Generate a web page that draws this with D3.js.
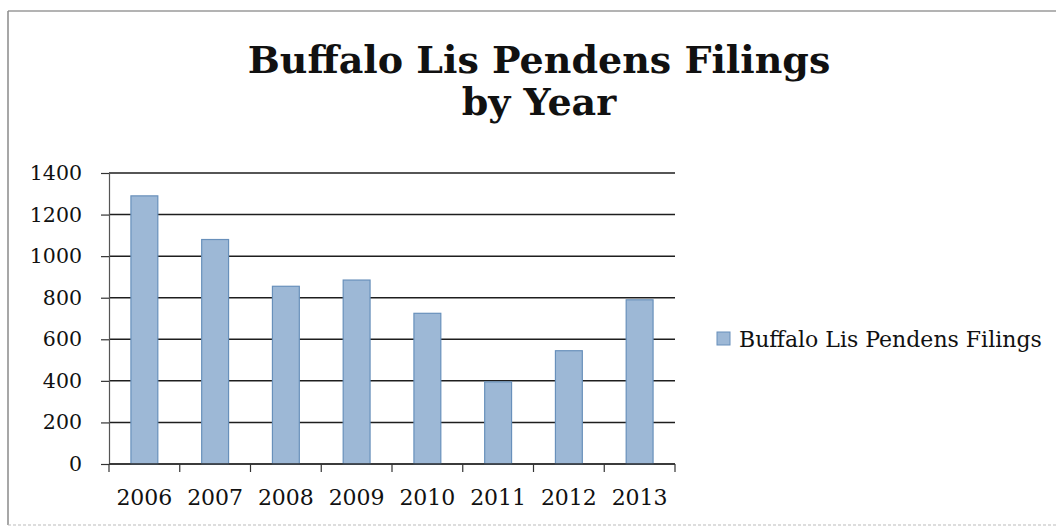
<!DOCTYPE html>
<html>
<head>
<meta charset="utf-8">
<script src="https://cdn.jsdelivr.net/npm/d3@7"></script>
<style>
  body { margin: 0; background: #fff; }
  text { font-family: "DejaVu Serif", serif; fill: #111; }
</style>
</head>
<body>
<div id="chart"></div>
<script>
var years = ["2006", "2007", "2008", "2009", "2010", "2011", "2012", "2013"];
var filings = [1290, 1080, 855, 885, 725, 395, 545, 790];
var yTicks = [0, 200, 400, 600, 800, 1000, 1200, 1400];
var seriesName = "Buffalo Lis Pendens Filings";
var titleLines = ["Buffalo Lis Pendens Filings", "by Year"];

var W = 1056, H = 527;
var plot = { left: 109, right: 675, top: 173, bottom: 464 };

var svg = d3.select("#chart").append("svg")
    .attr("width", W)
    .attr("height", H);

// outer chart border (top + left show, the rest falls off the scan)
svg.append("line").attr("x1", 8).attr("x2", W).attr("y1", 11).attr("y2", 11)
    .attr("stroke", "#9a9a9a").attr("stroke-width", 1.5);
svg.append("line").attr("x1", 8).attr("x2", 8).attr("y1", 11).attr("y2", 525)
    .attr("stroke", "#8a8a8a").attr("stroke-width", 1.5);
svg.append("line").attr("x1", 8).attr("x2", W).attr("y1", 525).attr("y2", 525)
    .attr("stroke", "#bbb").attr("stroke-width", 1).attr("stroke-dasharray", "3,2");

// title
svg.append("text")
    .attr("x", 539)
    .attr("text-anchor", "middle")
    .style("font-weight", "bold")
    .style("font-size", "38px")
    .selectAll("tspan")
    .data(titleLines)
    .enter().append("tspan")
    .attr("x", 539)
    .attr("y", function (d, i) { return 73 + i * 42; })
    .text(function (d) { return d; });

var x = d3.scaleBand()
    .domain(years)
    .range([plot.left, plot.right])
    .paddingInner(0.62)
    .paddingOuter(0.31);

var y = d3.scaleLinear()
    .domain([0, 1400])
    .range([plot.bottom, plot.top]);

// gridlines
svg.append("g")
    .selectAll("line")
    .data(yTicks)
    .enter().append("line")
    .attr("x1", plot.left)
    .attr("x2", plot.right)
    .attr("y1", function (d) { return y(d); })
    .attr("y2", function (d) { return y(d); })
    .attr("stroke", "#1e1e1e")
    .attr("stroke-width", 1.5);

// y axis
var yAxis = svg.append("g")
    .attr("transform", "translate(" + plot.left + ",0)")
    .call(d3.axisLeft(y).tickValues(yTicks).tickFormat(d3.format("d"))
        .tickSize(8).tickPadding(19).tickSizeOuter(0));
yAxis.select(".domain").attr("stroke", "#555").attr("stroke-width", 1.2);
yAxis.selectAll(".tick line").attr("stroke", "#333").attr("stroke-width", 1.2);
yAxis.selectAll("text")
    .style("font-family", "DejaVu Serif")
    .style("font-size", "20.5px")
    .attr("fill", "#111");

// bars
svg.append("g")
    .selectAll("rect")
    .data(filings)
    .enter().append("rect")
    .attr("x", function (d, i) { return x(years[i]); })
    .attr("width", x.bandwidth())
    .attr("y", function (d) { return y(d); })
    .attr("height", function (d) { return y(0) - y(d); })
    .attr("fill", "#9db8d6")
    .attr("stroke", "#6890bb")
    .attr("stroke-width", 1.2);

// x axis: ticks sit between categories
var xBounds = d3.range(years.length + 1).map(function (i) {
    return plot.left + i * (plot.right - plot.left) / years.length;
});
var xg = svg.append("g");
xg.append("line")
    .attr("x1", plot.left).attr("x2", plot.right)
    .attr("y1", plot.bottom).attr("y2", plot.bottom)
    .attr("stroke", "#333").attr("stroke-width", 1.4);
xg.selectAll("line.tick")
    .data(xBounds)
    .enter().append("line")
    .attr("class", "tick")
    .attr("x1", function (d) { return d; })
    .attr("x2", function (d) { return d; })
    .attr("y1", plot.bottom)
    .attr("y2", plot.bottom + 8)
    .attr("stroke", "#333")
    .attr("stroke-width", 1.2);
xg.selectAll("text")
    .data(years)
    .enter().append("text")
    .attr("x", function (d) { return x(d) + x.bandwidth() / 2; })
    .attr("y", 505)
    .attr("text-anchor", "middle")
    .style("font-size", "22px")
    .text(function (d) { return d; });

// legend
var legend = svg.append("g");
legend.append("rect")
    .attr("x", 717).attr("y", 332)
    .attr("width", 13).attr("height", 13)
    .attr("fill", "#9db8d6")
    .attr("stroke", "#6890bb")
    .attr("stroke-width", 1);
legend.append("text")
    .attr("x", 739)
    .attr("y", 347)
    .style("font-size", "22px")
    .text(seriesName);
</script>
</body>
</html>
